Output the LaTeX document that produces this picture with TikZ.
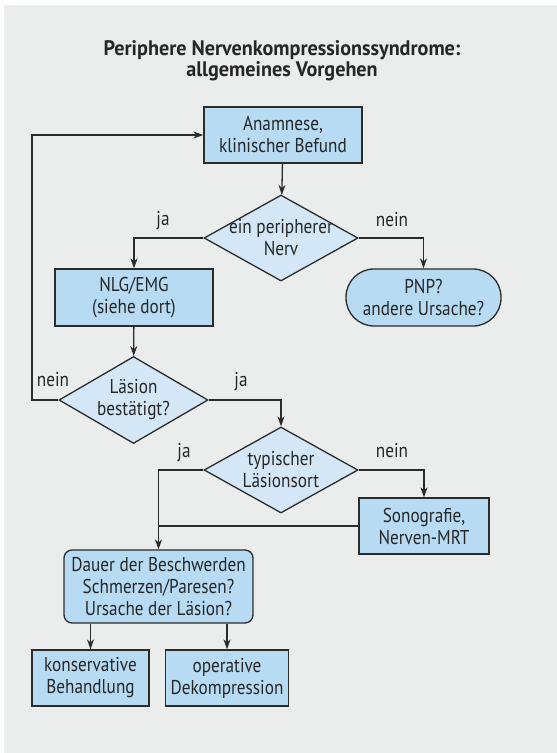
\documentclass[tikz,border=0pt]{standalone}
\usepackage{fontspec}
\setmainfont{PT Sans}[FakeStretch=0.86]
\newfontfamily\titlefont{PT Sans}[FakeStretch=0.96]
\usepackage{tikz}
\usetikzlibrary{arrows.meta,shapes.geometric}

\definecolor{panelgray}{HTML}{EBECEC}
\definecolor{boxblue}{HTML}{B7DBF3}
\definecolor{diablue}{HTML}{D4E7F6}
\definecolor{linegray}{HTML}{2B2B2B}

\begin{document}
\begin{tikzpicture}[x=1pt,y=-1pt,font=\fontsize{20}{22}\selectfont]
	  \tikzstyle{process}=[rectangle,draw=linegray,line width=1.3pt,fill=boxblue,
				  inner sep=0pt,align=center,text=black!85]
	  \tikzstyle{decision}=[diamond,aspect=1.79,draw=linegray,line width=1.3pt,fill=diablue,
				  inner sep=-12pt,align=center,text=black!85]
	  \tikzstyle{answer}=[inner sep=0pt,anchor=base,text=black!85]
	  \tikzstyle{arr}=[draw=linegray,line width=1.3pt,-{Stealth[length=10pt,width=7pt]}]

	\useasboundingbox (0,0) rectangle (557,753);
	\fill[panelgray] (4,5) rectangle (557,753);

	\node (title) at (282,61) [align=center,font=\fontsize{21}{21}\titlefont\bfseries,text=black!85]
		{Periphere Nervenkompressionssyndrome:\\allgemeines Vorgehen};

	\node (anamnese) at (283,135) [process,minimum width=158pt,minimum height=56pt]
		{Anamnese,\\klinischer Befund};
	\node (nerv) at (281,238) [decision,minimum width=154pt,minimum height=86pt]
		{ein peripherer\\Nerv};
	\node (nlg) at (134,297.5) [process,minimum width=158pt,minimum height=57pt]
		{NLG/EMG\\(siehe dort)};
	\node (pnp) at (423.5,297.5) [process,rounded corners=28pt,minimum width=155pt,minimum height=57pt]
		{PNP?\\andere Ursache?};
	\node (laesion) at (133.5,400) [decision,minimum width=149pt,minimum height=87pt]
		{L\"asion\\best\"atigt?};
	\node (typisch) at (281,470) [decision,minimum width=154pt,minimum height=86pt]
		{typischer\\L\"asionsort};
	\node (sono) at (424,526) [process,minimum width=130pt,minimum height=56pt]
		{Sonografie,\\Nerven-MRT};
	\node (dauer) at (158.5,586.5) [process,rounded corners=8pt,minimum width=189pt,minimum height=73pt]
		{Dauer der Beschwerden\\Schmerzen/Paresen?\\Ursache der L\"asion?};
	\node (kons) at (90.5,678) [process,minimum width=117pt,minimum height=56pt]
		{konservative\\Behandlung};
	\node (oper) at (227,678) [process,minimum width=123pt,minimum height=56pt]
		{operative\\Dekompression};

	\node (ja1) at (163,225) [answer] {ja};
	\node (nein1) at (392,226) [answer] {nein};
	\node (nein2) at (53,386) [answer] {nein};
	\node (ja2) at (241,386) [answer] {ja};
	\node (ja3) at (184,457) [answer] {ja};
	\node (nein3) at (392,457) [answer] {nein};

	\coordinate (loop) at (32,400);

	\draw[arr] (anamnese) -- (nerv);
	\draw[arr] (nerv.west) -| (nlg.north);
	\draw[arr] (nerv.east) -| (pnp.north);
	\draw[arr] (nlg) -- (laesion);
	\draw[arr] (laesion.west) -- (loop) |- (anamnese.west);
	\draw[arr] (laesion.east) -| (typisch.north);
	\draw[arr] (typisch.west) -| (dauer.north);
	\draw[arr] (typisch.east) -| (sono.north);
	\draw[draw=linegray,line width=1.3pt] (sono.west) -- (sono.west -| dauer.north);
	\draw[arr] (kons.north |- dauer.south) -- (kons.north);
	\draw[arr] (oper.north |- dauer.south) -- (oper.north);
\end{tikzpicture}
\end{document}
